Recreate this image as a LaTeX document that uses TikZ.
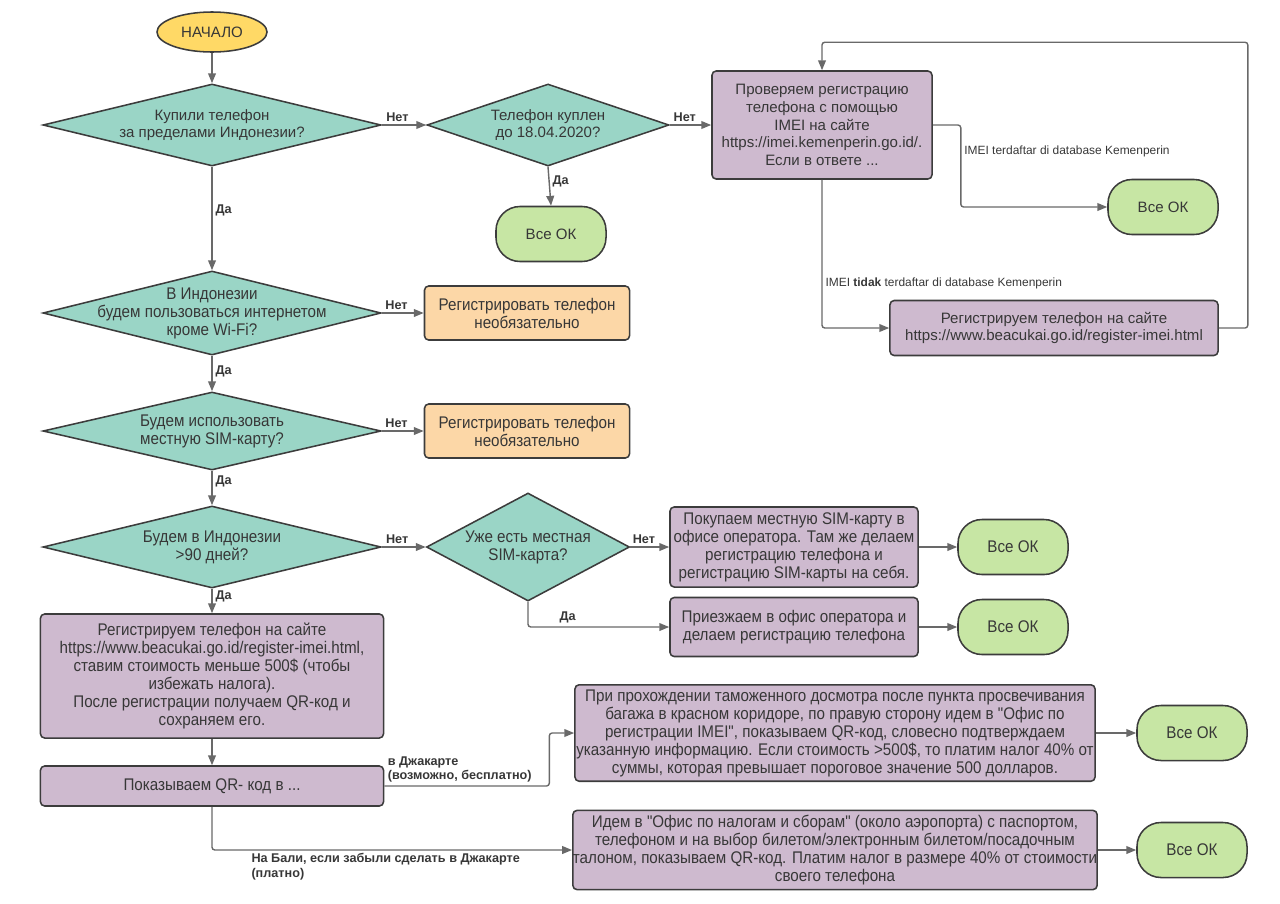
\documentclass[tikz,border=0pt]{standalone}
\usepackage{fontspec}
\setmainfont{Liberation Sans}
\newfontfamily\narrowfont[FakeStretch=0.9]{Liberation Sans}
\usetikzlibrary{shapes.geometric,arrows.meta,positioning}
\definecolor{flowteal}{RGB}{154,213,198}
\definecolor{flowpurple}{RGB}{206,186,207}
\definecolor{floworange}{RGB}{252,215,167}
\definecolor{flowgreen}{RGB}{199,230,164}
\definecolor{flowyellow}{RGB}{255,217,102}
\definecolor{flowedge}{RGB}{60,60,60}
\definecolor{flowline}{RGB}{105,105,105}
\definecolor{flowtext}{RGB}{55,55,55}
\newcommand{\topfont}{\fontsize{10.7}{12.5}\selectfont}
\newcommand{\lowfont}{\narrowfont\fontsize{12}{12.8}\selectfont}
\newcommand{\tagfont}{\bfseries\fontsize{9}{10.5}\selectfont}
\newcommand{\notefont}{\fontsize{8.5}{10}\selectfont}

\begin{document}
\begin{tikzpicture}[x=0.025cm, y=-0.025cm,
    shapebox/.style={draw=flowedge, line width=1.1pt, text=flowtext, align=center},
    decision/.style={shapebox, diamond, fill=flowteal, inner xsep=-90pt, inner ysep=-25pt, minimum width=8.45cm},
    process/.style={shapebox, rectangle, rounded corners=3pt, fill=flowpurple, inner xsep=1.5pt},
    optbox/.style={shapebox, rectangle, rounded corners=3pt, fill=floworange, minimum width=5.125cm, minimum height=1.35cm, font=\lowfont},
    okbox/.style={shapebox, rectangle, rounded corners=0.6cm, fill=flowgreen, minimum width=2.75cm, minimum height=1.375cm},
    flowarrow/.style={draw=flowline, line width=1pt, rounded corners=2pt, -{Triangle[length=7pt,width=5.5pt]}},
    yesno/.style={font=\tagfont, text=flowtext, inner sep=2pt},
    note/.style={font=\notefont, text=flowtext, inner sep=2pt}]
    \useasboundingbox (0,0) rectangle (1280,903);

    % top part
    \node[shapebox, ellipse, fill=flowyellow, minimum width=2.75cm, minimum height=1cm, font=\topfont] (start) at (212,32) {НАЧАЛО};
    \node[decision, minimum height=2.05cm, font=\topfont] (q1) at (212,125) {Купили телефон\\за пределами Индонезии?};
    \node[decision, minimum width=6.05cm, minimum height=2.05cm, font=\topfont] (q2) at (548,125) {Телефон куплен\\до 18.04.2020?};
    \node[okbox, font=\topfont] (ok1) at (551,234) {Все ОК};
    \node[process, minimum width=5.5cm, minimum height=2.7cm, font=\topfont] (check) at (822,125) {Проверяем регистрацию\\телефона с помощью\\IMEI на сайте\\https://imei.kemenperin.go.id/.\\Если в ответе ...};
    \node[okbox, font=\topfont] (ok2) at (1163,207) {Все ОК};
    \node[process, minimum width=8.2cm, minimum height=1.375cm, font=\topfont] (regsite) at (1054,328) {Регистрируем телефон на сайте\\https://www.beacukai.go.id/register-imei.html};

    % questions on the left
    \node[decision, minimum height=2.1cm, font=\lowfont] (q3) at (212,313) {В Индонезии\\будем пользоваться интернетом\\кроме Wi-Fi?};
    \node[optbox] (opt1) at (527,313) {Регистрировать телефон\\необязательно};
    \node[decision, minimum height=1.95cm, font=\lowfont] (q4) at (212,431) {Будем использовать\\местную SIM-карту?};
    \node[optbox] (opt2) at (527,431) {Регистрировать телефон\\необязательно};
    \node[decision, minimum height=2.05cm, font=\lowfont] (q5) at (212,547) {Будем в Индонезии\\>90 дней?};
    \node[decision, minimum width=5.075cm, minimum height=2.7cm, font=\lowfont] (q6) at (528,547) {Уже есть местная\\SIM-карта?};
    \node[process, minimum width=6.2cm, minimum height=2cm, font=\lowfont] (sim1) at (794,547) {Покупаем местную SIM-карту в\\офисе оператора. Там же делаем\\регистрацию телефона и\\регистрацию SIM-карты на себя.};
    \node[okbox, font=\lowfont] (ok3) at (1013,547) {Все ОК};
    \node[process, minimum width=6.2cm, minimum height=1.475cm, font=\lowfont] (sim2) at (794,627) {Приезжаем в офис оператора и\\делаем регистрацию телефона};
    \node[okbox, font=\lowfont] (ok4) at (1013,627) {Все ОК};

    % registration and QR code
    \node[process, minimum width=8.575cm, minimum height=3.1cm, font=\lowfont] (reg) at (212,676) {Регистрируем телефон на сайте\\https://www.beacukai.go.id/register-imei.html,\\ставим стоимость меньше 500\$ (чтобы\\избежать налога).\\После регистрации получаем QR-код и\\сохраняем его.};
    \node[process, minimum width=8.575cm, minimum height=1cm, font=\lowfont] (qr) at (212,786) {Показываем QR- код в ...};
    \node[process, minimum width=13cm, minimum height=2.35cm, inner xsep=0pt, font=\lowfont] (jakarta) at (835,733) {При прохождении таможенного досмотра после пункта просвечивания\\багажа в красном коридоре, по правую сторону идем в "Офис по\\регистрации IMEI", показываем QR-код, словесно подтверждаем\\указанную информацию. Если стоимость >500\$, то платим налог 40\% от\\суммы, которая превышает пороговое значение 500 долларов.};
    \node[okbox, font=\lowfont] (ok5) at (1192,733) {Все ОК};
    \node[process, minimum width=13cm, minimum height=1.975cm, inner xsep=0pt, font=\lowfont] (bali) at (835,850) {Идем в "Офис по налогам и сборам" (около аэропорта) с паспортом,\\телефоном и на выбор билетом/электронным билетом/посадочным\\талоном, показываем QR-код. Платим налог в размере 40\% от стоимости\\своего телефона};
    \node[okbox, font=\lowfont] (ok6) at (1192,850) {Все ОК};

    \draw[flowarrow] (start) -- (q1);
    \draw[flowarrow] (q1.east) -- node[yesno, above, pos=0.35] {Нет} (q2.west);
    \draw[flowarrow] (q2.south) -- node[yesno, right, pos=0.37] {Да} (ok1.north);
    \draw[flowarrow] (q2.east) -- node[yesno, above, pos=0.36] {Нет} (check.west);
    \draw[flowarrow] (check.east) -- ++(28,0) |- node[note, right, pos=0.16] {IMEI terdaftar di database Kemenperin} (ok2.west);
    \draw[flowarrow] (check.south) |- node[note, right, pos=0.35] {IMEI \textbf{tidak} terdaftar di database Kemenperin} (regsite.west);
    \draw[flowarrow] (regsite.east) -- ++(29,0) |- ([yshift=0.7cm]check.north) -- (check.north);

    \draw[flowarrow] (q1.south) -- node[yesno, right, pos=0.42] {Да} (q3.north);
    \draw[flowarrow] (q3.east) -- node[yesno, above, pos=0.35] {Нет} (opt1.west);
    \draw[flowarrow] (q3.south) -- node[yesno, right, pos=0.43] {Да} (q4.north);
    \draw[flowarrow] (q4.east) -- node[yesno, above, pos=0.35] {Нет} (opt2.west);
    \draw[flowarrow] (q4.south) -- node[yesno, right, pos=0.3] {Да} (q5.north);
    \draw[flowarrow] (q5.east) -- node[yesno, above, pos=0.35] {Нет} (q6.west);
    \draw[flowarrow] (q6.east) -- node[yesno, above, pos=0.35] {Нет} (sim1.west);
    \draw[flowarrow] (q6.south) |- node[yesno, above, pos=0.64] {Да} (sim2.west);
    \draw[flowarrow] (sim1) -- (ok3);
    \draw[flowarrow] (sim2) -- (ok4);
    \draw[flowarrow] (q5.south) -- node[yesno, right, pos=0.3] {Да} (reg.north);
    \draw[flowarrow] (reg) -- (qr);
    \draw[flowarrow] (qr.east) -- node[yesno, anchor=south west, pos=0, align=left] {в Джакарте\\(возможно, бесплатно)} ++(165,0) |- (jakarta.west);
    \draw[flowarrow] (qr.south) |- node[yesno, anchor=north west, pos=0.55, align=left] {На Бали, если забыли сделать в Джакарте\\(платно)} (bali.west);
    \draw[flowarrow] (jakarta) -- (ok5);
    \draw[flowarrow] (bali) -- (ok6);
\end{tikzpicture}
\end{document}
